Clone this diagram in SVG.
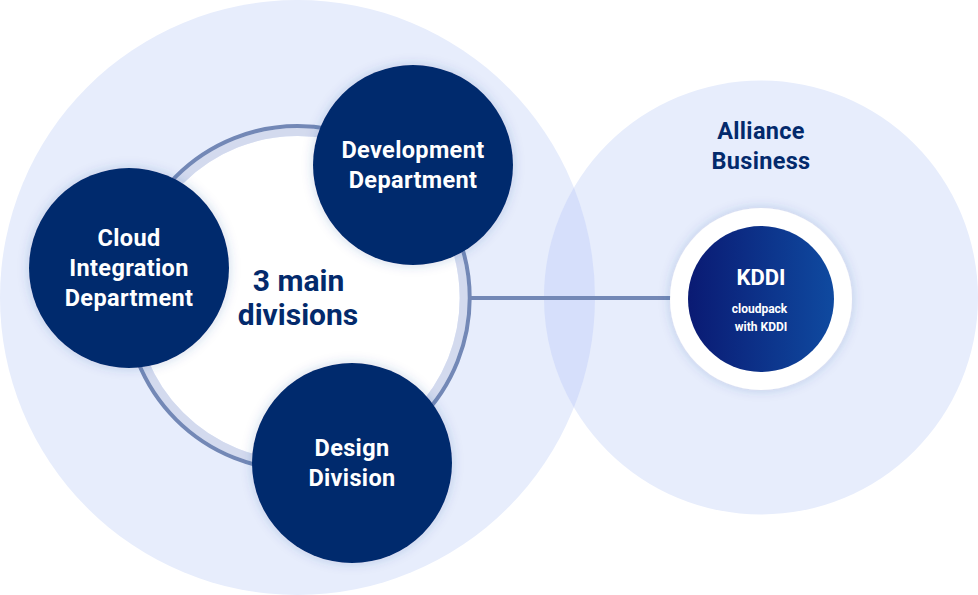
<svg xmlns="http://www.w3.org/2000/svg" width="978" height="595" viewBox="0 0 978 595">
<style>
text{font-family:Roboto,"Liberation Sans",sans-serif;font-weight:700;text-anchor:middle}
.w{fill:#fff;font-size:23.5px;letter-spacing:.35px}
.b{fill:#032a6c;font-size:30px}
.dept{fill:#032b6d;filter:url(#s)}
.t{fill:#032a6c;font-size:23.5px;letter-spacing:.3px}
.k{fill:#fff;font-size:12px}
</style>
<defs>
<linearGradient id="g" x1="0" x2="1" y1="0" y2="0"><stop offset="0" stop-color="#0a1a73"/><stop offset="1" stop-color="#0f4aa0"/></linearGradient>
<filter id="s" x="-20%" y="-20%" width="140%" height="140%"><feGaussianBlur in="SourceAlpha" stdDeviation="6" result="bl"/><feFlood flood-color="#2a4c9c" flood-opacity="0.22"/><feComposite in2="bl" operator="in"/><feMerge><feMergeNode/><feMergeNode in="SourceGraphic"/></feMerge></filter>
</defs>
<g id="background-circles">
<circle cx="297.5" cy="297.5" r="297.5" fill="#e7edfc"/>
<circle cx="761" cy="297.500" r="217" fill="#e7edfc"/>
<path d="M573.900 187.500A297.500 297.500 0 0 1 573.900 407.500A217 217 0 0 1 573.900 187.500Z" fill="#d6dffb"/>
</g>
<g id="connectors">
<circle cx="297.700" cy="298" r="162" fill="#fff"/>
<circle cx="297.700" cy="298" r="166" fill="none" stroke="#d3daee" stroke-width="8"/>
<circle cx="297.700" cy="298" r="172" fill="none" stroke="#7388b6" stroke-width="4"/>
<line x1="470" y1="298" x2="672" y2="298" stroke="#7388b6" stroke-width="4"/>
</g>
<g id="center-label"><text class="b" x="298.500" y="291">3 main</text><text class="b" x="298" y="325">divisions</text></g>
<g id="dev"><circle class="dept" cx="413" cy="165" r="100"/><text class="w" x="413" y="158">Development</text><text class="w" x="413" y="188">Department</text></g>
<g id="cloud"><circle class="dept" cx="129" cy="268" r="100"/><text class="w" x="129" y="246">Cloud</text><text class="w" x="129" y="276">Integration</text><text class="w" x="129" y="306">Department</text></g>
<g id="design"><circle class="dept" cx="352" cy="463" r="100"/><text class="w" x="352" y="456">Design</text><text class="w" x="352" y="486">Division</text></g>
<g id="alliance"><text class="t" x="761" y="139">Alliance</text><text class="t" x="761" y="169">Business</text></g>
<g id="kddi"><circle cx="761" cy="299" r="91" fill="#fff" filter="url(#s)"/><circle cx="761" cy="299" r="73" fill="url(#g)"/><text x="761" y="285" fill="#fff" font-size="22px">KDDI</text><text class="k" x="759.500" y="313">cloudpack</text><text class="k" x="761" y="331">with KDDI</text></g>
</svg>
